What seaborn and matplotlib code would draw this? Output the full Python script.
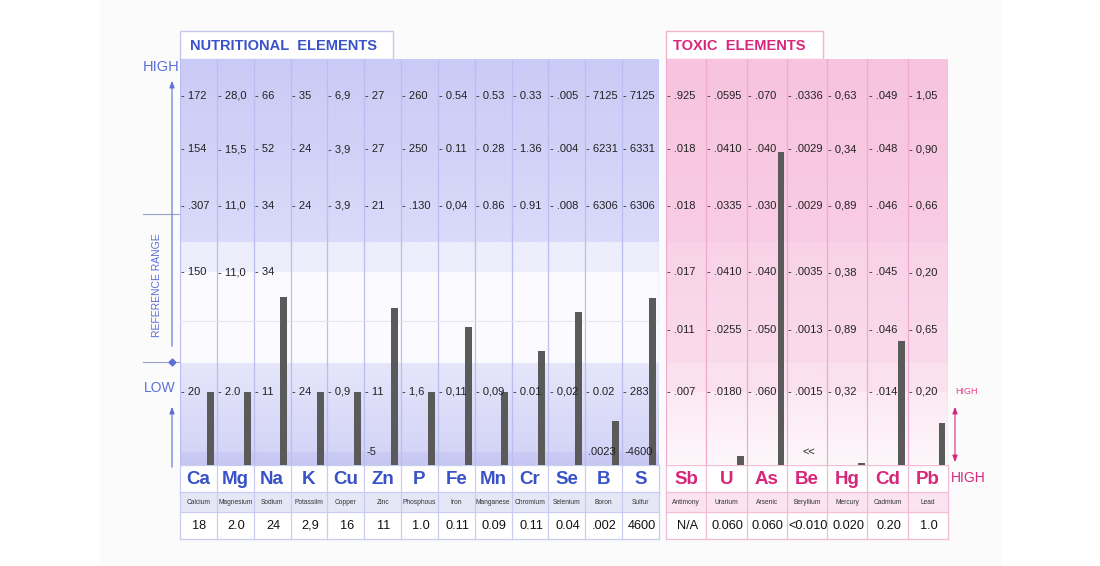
import numpy as np
import pandas as pd
import seaborn as sns
import matplotlib.pyplot as plt
from matplotlib.patches import Rectangle
from matplotlib.colors import to_rgb

# data
nut_symbols = ["Ca", "Mg", "Na", "K", "Cu", "Zn", "P", "Fe", "Mn", "Cr", "Se", "B", "S"]
nut_names = ["Calcium", "Magnesium", "Sodium", "Potassiim", "Copper", "Zinc", "Phosphous",
             "Iron", "Manganese", "Chromium", "Selenium", "Boron", "Sulfur"]
nut_values = ["18", "2.0", "24", "2,9", "16", "11", "1.0", "0.11", "0.09", "0.11", "0.04", ".002", "4600"]
nut_levels = [18, 18, 41.4, 18, 18, 38.7, 18, 34.0, 18, 28.1, 37.7, 10.8, 41.1]
nut_rows = [
    ["172", "28,0", "66", "35", "6,9", "27", "260", "0.54", "0.53", "0.33", ".005", "7125", "7125"],
    ["154", "15,5", "52", "24", "3,9", "27", "250", "0.11", "0.28", "1.36", ".004", "6231", "6331"],
    [".307", "11,0", "34", "24", "3,9", "21", ".130", "0,04", "0.86", "0.91", ".008", "6306", "6306"],
    ["150", "11,0", "34", "", "", "", "", "", "", "", "", "", ""],
    ["", "", "", "", "", "", "", "", "", "", "", "", ""],
    ["20", "2.0", "11", "24", "0,9", "11", "1,6", "0,11", "0,09", "0.01", "0,02", "0.02", "283"],
]
nut_bottom = ["", "", "", "", "", "-5", "", "", "", "", "", ".0023", "-4600"]

tox_symbols = ["Sb", "U", "As", "Be", "Hg", "Cd", "Pb"]
tox_names = ["Antimony", "Urarium", "Arsenic", "Beryllium", "Mercury", "Cadmium", "Lead"]
tox_values = ["N/A", "0.060", "0.060", "<0.010", "0.020", "0.20", "1.0"]
tox_levels = [0, 2.2, 77.1, 0, 0.5, 30.5, 10.3]
tox_rows = [
    [".925", ".0595", ".070", ".0336", "0,63", ".049", "1,05"],
    [".018", ".0410", ".040", ".0029", "0,34", ".048", "0,90"],
    [".018", ".0335", ".030", ".0029", "0,89", ".046", "0,66"],
    [".017", ".0410", ".040", ".0035", "0,38", ".045", "0,20"],
    [".011", ".0255", ".050", ".0013", "0,89", ".046", "0,65"],
    [".007", ".0180", ".060", ".0015", "0,32", ".014", "0,20"],
]
tox_bottom = ["", "", "", "<<", "", "", ""]

row_y = [90.9, 77.8, 63.8, 47.5, 33.3, 18.0]
bottom_y = 3.2

BLUE = "#3a52c8"
BLUE_L = "#5b6fd6"
PINK = "#d8267a"
BAR = "#5a5a5a"

plt.rcParams['font.family'] = ['Liberation Sans', 'DejaVu Sans']

fig = plt.figure(figsize=(11, 5.66), dpi=100)
bg = fig.add_axes([0, 0, 1, 1])
bg.set_xlim(0, 1100)
bg.set_ylim(566, 0)
bg.axis('off')
bg.add_patch(Rectangle((100, 0), 900, 566, color="#fbfbfb", zorder=0))


def px_axes(x0, y0, x1, y1):
    return fig.add_axes([x0 / 1100, 1 - y1 / 566, (x1 - x0) / 1100, (y1 - y0) / 566])


def grad(ax, n, y0, y1, c_bot, c_top):
    t = np.linspace(0, 1, 64)[:, None]
    a, b = np.array(to_rgb(c_bot)), np.array(to_rgb(c_top))
    img = (a + (b - a) * t)[:, None, :]
    ax.imshow(img, extent=[-0.5, n - 0.5, y0, y1], origin='lower', aspect='auto', zorder=0)


def panel(ax, symbols, levels, rows, bottom, bands, line_col, offset, width, bottom_dx):
    n = len(symbols)
    df = pd.DataFrame({"el": symbols, "lvl": levels})
    sns.barplot(data=df, x="el", y="lvl", ax=ax, color=BAR, width=width,
                errorbar=None, saturation=1, zorder=3)
    for bar in ax.containers[0]:
        bar.set_x(bar.get_x() + offset)
    for y0, y1, cb, ct in bands:
        grad(ax, n, y0, y1, cb, ct)
    for i in range(n + 1):
        ax.axvline(i - 0.5, color=line_col, lw=0.9, zorder=1)
    for yy, row in zip(row_y, rows):
        for i, lab in enumerate(row):
            if lab:
                ax.text(i - 0.47, yy, "- " + lab, fontsize=8, color="#222222",
                        va='center', ha='left', zorder=4)
    for i, lab in enumerate(bottom):
        if lab:
            ax.text(i + bottom_dx, bottom_y, lab, fontsize=8, color="#222222",
                    va='center', ha='left', zorder=4)
    ax.set_xlim(-0.5, n - 0.5)
    ax.set_ylim(0, 100)
    ax.axis('off')


ax_n = px_axes(180, 59, 659, 465)
panel(ax_n, nut_symbols, nut_levels, nut_rows, nut_bottom,
      [(0, 3.2, "#c6c6f3", "#cbcbf5"), (3.2, 25.1, "#d4d4f7", "#e6e6fb"),
       (25.1, 47.5, "#fbfbff", "#fbfbff"), (47.5, 54.9, "#ededfc", "#ededfc"),
       (54.9, 100, "#dadafa", "#cacaf6")],
      "#b9bdf0", 0.32, 0.19, -0.44)
ax_n.axhline(35.5, color="#e6e6f2", lw=0.8, zorder=1)

ax_t = px_axes(666, 59, 948, 465)
panel(ax_t, tox_symbols, tox_levels, tox_rows, tox_bottom,
      [(0, 18, "#fdf7fa", "#fce9f3"), (18, 25.1, "#fbe1ee", "#fbe1ee"),
       (25.1, 54.9, "#fadbec", "#f9d2e7"), (54.9, 100, "#f9cce5", "#f7c3df")],
      "#f1aacd", 0.35, 0.16, -0.12)

# header boxes
bg.add_patch(Rectangle((180, 31), 213, 28, facecolor="white", edgecolor="#c5c9ee", lw=1, zorder=2))
bg.text(190, 46, "NUTRITIONAL  ELEMENTS", fontsize=10.5, fontweight='bold', color=BLUE,
        va='center', ha='left')
bg.add_patch(Rectangle((666, 31), 157, 28, facecolor="white", edgecolor="#f2b5d2", lw=1, zorder=2))
bg.text(673, 46, "TOXIC  ELEMENTS", fontsize=10.5, fontweight='bold', color=PINK,
        va='center', ha='left')


# element table under the bars
def table(x0, x1, symbols, names, values, col, line_col, name_bg):
    edges = np.linspace(x0, x1, len(symbols) + 1)
    bg.add_patch(Rectangle((x0, 465), x1 - x0, 27, facecolor="white", edgecolor="none"))
    bg.add_patch(Rectangle((x0, 492), x1 - x0, 20, facecolor=name_bg, edgecolor="none"))
    bg.add_patch(Rectangle((x0, 512), x1 - x0, 27, facecolor="white", edgecolor="none"))
    for yy in [465, 492, 512, 539]:
        bg.plot([x0, x1], [yy, yy], color=line_col, lw=0.9)
    for xx in edges:
        bg.plot([xx, xx], [465, 539], color=line_col, lw=0.9)
    for i in range(len(symbols)):
        cx = (edges[i] + edges[i + 1]) / 2
        bg.text(cx, 479, symbols[i], fontsize=13.5, fontweight='bold', color=col,
                ha='center', va='center')
        bg.text(cx, 502, names[i], fontsize=4.8, color="#333333", ha='center', va='center')
        bg.text(cx + 1, 526, values[i], fontsize=9.2, color="#111111", ha='center', va='center')


table(180, 659, nut_symbols, nut_names, nut_values, BLUE, "#c8ccf0", "#e5e7f7")
table(666, 948, tox_symbols, tox_names, tox_values, PINK, "#f2bcd6", "#fbe4ef")

# left scale annotation
bg.text(161, 67, "HIGH", fontsize=10.5, color=BLUE_L, ha='center', va='center')
bg.annotate("", xy=(172, 78), xytext=(172, 349),
            arrowprops=dict(arrowstyle='-|>,head_width=0.15,head_length=0.4', color=BLUE_L, lw=0.8))
bg.plot([143, 180], [214, 214], color="#9aa0c8", lw=0.8)
bg.plot([143, 180], [362, 362], color="#9aa0c8", lw=0.8)
bg.plot([172], [362], marker='D', ms=3.5, color=BLUE_L)
bg.text(157, 285, "REFERENCE RANGE", fontsize=7.5, color=BLUE_L, rotation=90,
        ha='center', va='center')
bg.text(160, 388, "LOW", fontsize=10, color=BLUE_L, ha='center', va='center')
bg.annotate("", xy=(172, 404), xytext=(172, 470),
            arrowprops=dict(arrowstyle='-|>,head_width=0.15,head_length=0.4', color=BLUE_L, lw=0.8))

# right scale annotation
bg.text(955, 392, "HIGH", fontsize=6.5, color="#e0408a", ha='left', va='center')
bg.annotate("", xy=(955, 404), xytext=(955, 465),
            arrowprops=dict(arrowstyle='<|-|>,head_width=0.15,head_length=0.4', color=PINK, lw=0.8))
bg.text(951, 478, "HIGH", fontsize=10, color=PINK, ha='left', va='center')

plt.savefig("out.png", dpi=100)
